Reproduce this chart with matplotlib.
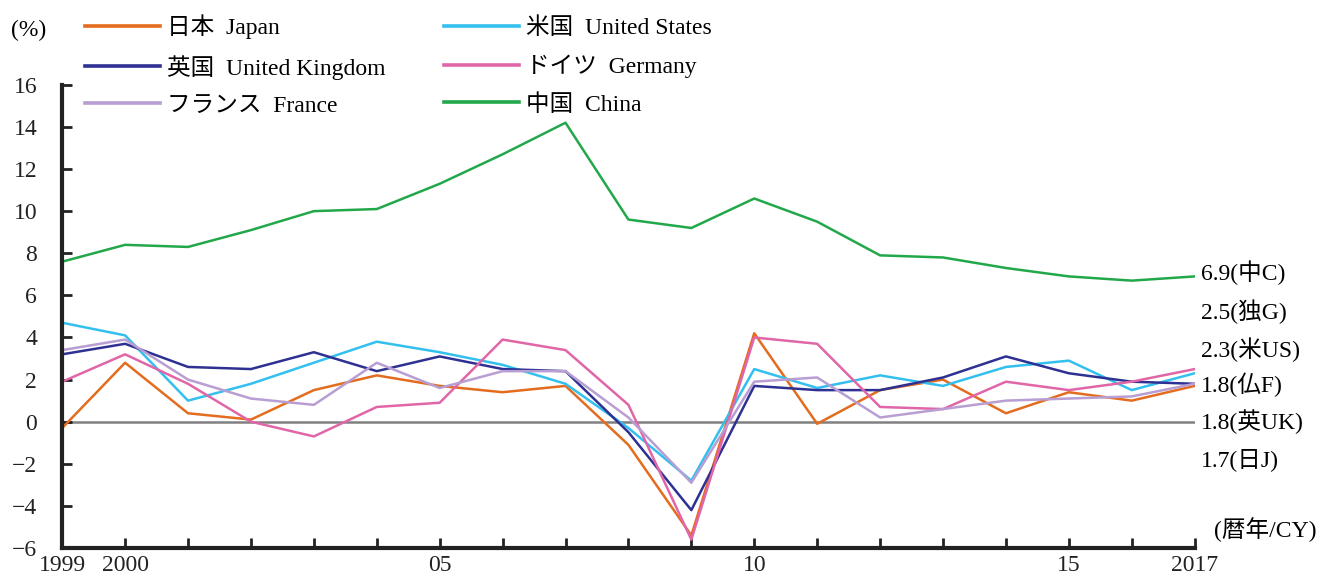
import matplotlib.pyplot as plt

years = list(range(1999, 2018))
japan = [-0.3, 2.8, 0.4, 0.1, 1.5, 2.2, 1.7, 1.4, 1.7, -1.1, -5.4, 4.2, -0.1, 1.5, 2.0, 0.4, 1.4, 1.0, 1.7]
us = [4.7, 4.1, 1.0, 1.8, 2.8, 3.8, 3.3, 2.7, 1.8, -0.3, -2.8, 2.5, 1.6, 2.2, 1.7, 2.6, 2.9, 1.5, 2.3]
uk = [3.2, 3.7, 2.6, 2.5, 3.3, 2.4, 3.1, 2.5, 2.4, -0.5, -4.2, 1.7, 1.5, 1.5, 2.1, 3.1, 2.3, 1.9, 1.8]
germany = [1.9, 3.2, 1.8, 0.0, -0.7, 0.7, 0.9, 3.9, 3.4, 0.8, -5.6, 4.0, 3.7, 0.7, 0.6, 1.9, 1.5, 1.9, 2.5]
france = [3.4, 3.9, 2.0, 1.1, 0.8, 2.8, 1.6, 2.4, 2.4, 0.2, -2.9, 1.9, 2.1, 0.2, 0.6, 1.0, 1.1, 1.2, 1.8]
china = [7.6, 8.4, 8.3, 9.1, 10.0, 10.1, 11.3, 12.7, 14.2, 9.6, 9.2, 10.6, 9.5, 7.9, 7.8, 7.3, 6.9, 6.7, 6.9]

xtick_labels = {1999: '1999', 2000: '2000', 2005: '05', 2010: '10', 2015: '15', 2017: '2017'}
end_labels = ['6.9(中C)', '2.5(独G)', '2.3(米US)', '1.8(仏F)', '1.8(英UK)', '1.7(日J)']

plt.rcParams['font.family'] = ['Liberation Serif', 'Noto Sans CJK JP']
fs = 17

fig = plt.figure(figsize=(13.23, 5.79), dpi=100)
ax = fig.add_axes([0.047, 0.0535, 0.856, 0.8])

ax.axhline(0, color='#808080', lw=1.8, zorder=1)

series = [
    ('日本  Japan', japan, '#E46C1E'),
    ('米国  United States', us, '#33C0EE'),
    ('英国  United Kingdom', uk, '#2E3192'),
    ('ドイツ  Germany', germany, '#E066A8'),
    ('フランス  France', france, '#B89ED2'),
    ('中国  China', china, '#22A84A'),
]
handles = {}
for name, vals, col in series:
    ln, = ax.plot(years, vals, color=col, lw=1.8, label=name, zorder=2)
    handles[name] = ln

ax.set_xlim(1999, 2017)
ax.set_ylim(-6, 16)
ax.set_yticks(range(-6, 17, 2))
ax.set_xticks(years)
ax.set_xticklabels([xtick_labels.get(y, '') for y in years])
ax.tick_params(direction='in', length=7, width=2, labelsize=fs, colors='#222222')
ax.tick_params(axis='y', pad=18)
ax.tick_params(axis='x', pad=5)
for s in ['top', 'right']:
    ax.spines[s].set_visible(False)
for s in ['left', 'bottom']:
    ax.spines[s].set_linewidth(3)
    ax.spines[s].set_color('#222222')

order = ['日本  Japan', '英国  United Kingdom', 'フランス  France',
         '米国  United States', 'ドイツ  Germany', '中国  China']
leg = fig.legend([handles[k] for k in order], order, ncol=2, frameon=False,
                 loc='upper left', bbox_to_anchor=(0.064, 0.975), fontsize=fs,
                 handlelength=3.2, handletextpad=0.3, columnspacing=2.45,
                 labelspacing=0.66, borderpad=0, borderaxespad=0)
for h in leg.get_lines():
    h.set_linewidth(2.6)

label_y = [7.1, 5.2, 3.4, 1.75, 0.0, -1.8]
for txt, yy in zip(end_labels, label_y):
    ax.text(2017.1, yy, txt, fontsize=fs, va='center', ha='left', clip_on=False)

fig.text(0.008, 0.948, '(%)', fontsize=fs, va='center')
ax.text(2017.3, -5.1, '(暦年/CY)', fontsize=fs, va='center', ha='left', clip_on=False)

fig.savefig('out.png', dpi=100)
